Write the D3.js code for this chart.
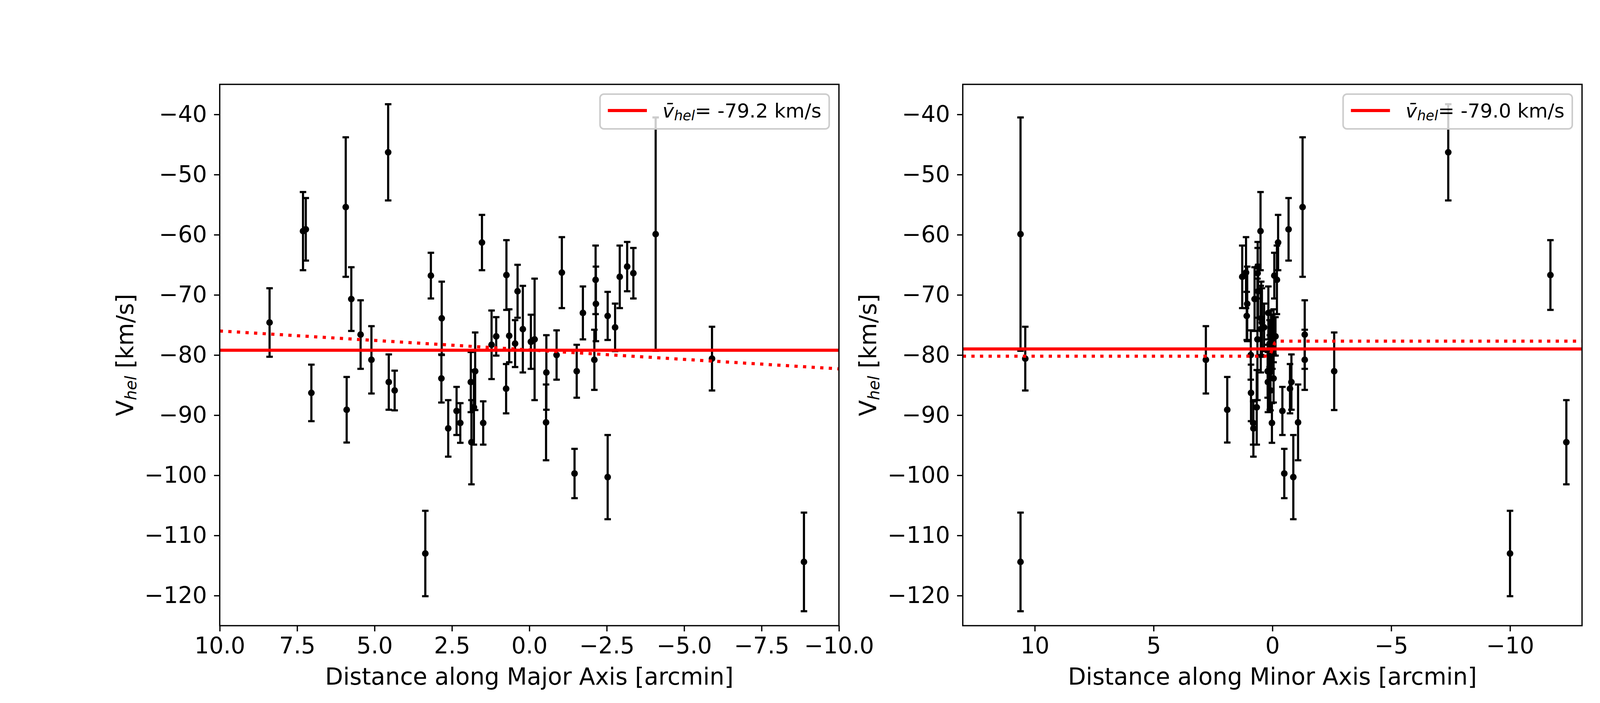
<!DOCTYPE html>
<html>
<head>
<meta charset="utf-8">
<script src="https://cdn.jsdelivr.net/npm/d3@7"></script>
<style>
  body { margin: 0; background: #fff; }
  text { font-family: "DejaVu Sans", sans-serif; fill: #000; }
</style>
</head>
<body>
<div id="chart"></div>
<script>
// velocities of the stars [km/s] and their errors
const velocity = [-74.6, -59.4, -59.1, -86.3, -55.4, -89.1, -70.7, -76.6, -80.8, -46.3,
  -84.5, -85.9, -113.0, -66.8, -73.9, -83.9, -92.2, -89.3, -91.3, -84.5,
  -82.7, -88.7, -94.5, -91.3, -61.3, -78.3, -76.9, -66.7, -85.6, -76.8,
  -78.1, -69.4, -75.7, -77.8, -77.4, -82.9, -91.2, -80.0, -66.3, -82.7,
  -99.7, -73.0, -80.8, -67.5, -71.5, -73.5, -100.3, -75.4, -67.0, -65.3,
  -66.4, -59.9, -80.6, -114.4];
const velErr = [5.7, 6.5, 5.2, 4.7, 11.6, 5.45, 5.3, 5.7, 5.6, 8.0,
  4.6, 3.3, 7.1, 3.8, 6.1, 4.0, 4.7, 4.0, 3.3, 5.0,
  6.45, 6.2, 7.0, 3.6, 4.6, 5.7, 3.2, 5.8, 4.1, 4.4,
  3.9, 4.4, 7.2, 4.5, 10.1, 6.2, 6.3, 4.1, 5.9, 4.4,
  4.1, 4.4, 5.0, 5.7, 6.2, 4.0, 7.0, 3.95, 5.2, 4.1,
  4.2, 19.4, 5.3, 8.2];
// distance along the axes [arcmin]
const majorDist = [8.39, 7.31, 7.22, 7.04, 5.93, 5.90, 5.75, 5.45, 5.10, 4.56,
  4.54, 4.35, 3.36, 3.18, 2.83, 2.84, 2.62, 2.35, 2.23, 1.89,
  1.75, 1.79, 1.87, 1.49, 1.53, 1.22, 1.07, 0.74, 0.75, 0.65,
  0.46, 0.38, 0.21, -0.05, -0.17, -0.55, -0.54, -0.88, -1.05, -1.53,
  -1.46, -1.73, -2.10, -2.14, -2.15, -2.53, -2.53, -2.77, -2.92, -3.16,
  -3.36, -4.08, -5.90, -8.87];
const minorDist = [0.44, 0.50, -0.68, 0.90, -1.27, 1.90, 0.75, -1.36, 2.8, -7.4,
  -0.80, 0.08, -10.0, -0.08, 0.47, -0.05, 0.80, -0.42, 0.02, 0.19,
  -2.60, 0.66, -12.37, 0.81, -0.24, 0.06, -0.13, -11.7, -0.74, -0.05,
  0.12, 0.60, 0.49, 0.0, 0.63, 0.11, -1.08, 0.91, 1.11, 0.20,
  -0.50, 0.17, -1.36, -0.19, 1.06, 1.08, -0.88, 0.35, 1.27, 0.62,
  0.62, 10.6, 10.4, 10.6];

// mean velocity and the fitted gradients
const meanMajor = -79.2, meanMinor = -79.0;
const majorFitX = [10, -10], majorFitY = [-76.0, -82.3];
const minorFitX = [13.03, 0.3, 0.1, 0, -0.1, -0.3, -13.03];
const minorFitY = [-80.2, -80.2, -80.0, -79.0, -78.0, -77.7, -77.7];

// ticks
const yTicks = [-40, -50, -60, -70, -80, -90, -100, -110, -120];
const majorTicks = [10, 7.5, 5, 2.5, 0, -2.5, -5, -7.5, -10];
const minorTicks = [10, 5, 0, -5, -10];

const W = 4500, H = 1800;
const fs = 58.3, legFs = 50;
const axTop = 216, axBottom = 1602;

const svg = d3.select("#chart").append("svg")
  .attr("width", W).attr("height", H)
  .attr("viewBox", `0 0 ${W} ${H}`);

const y = d3.scaleLinear().domain([-125, -35]).range([axBottom, axTop]);

function panel(id, x0, x1, xDomain, xTicks, tickFmt, dist, mean, fitX, fitY, xlab) {
  const x = d3.scaleLinear().domain(xDomain).range([x0, x1]);
  const g = svg.append("g");

  g.append("clipPath").attr("id", "clip" + id)
    .append("rect").attr("x", x0).attr("y", axTop).attr("width", x1 - x0).attr("height", axBottom - axTop);
  const plot = g.append("g").attr("clip-path", `url(#clip${id})`);

  const pts = velocity.map((v, i) => ({ x: dist[i], v: v, e: velErr[i] }));

  // error bars
  plot.selectAll(".bar").data(pts).join("line")
    .attr("x1", d => x(d.x)).attr("x2", d => x(d.x))
    .attr("y1", d => y(d.v - d.e)).attr("y2", d => y(d.v + d.e))
    .attr("stroke", "#000").attr("stroke-width", 5.5);
  pts.forEach(d => {
    [d.v - d.e, d.v + d.e].forEach(c => {
      plot.append("line")
        .attr("x1", x(d.x) - 8.3).attr("x2", x(d.x) + 8.3)
        .attr("y1", y(c)).attr("y2", y(c))
        .attr("stroke", "#000").attr("stroke-width", 5.5);
    });
  });
  plot.selectAll(".pt").data(pts).join("circle")
    .attr("cx", d => x(d.x)).attr("cy", d => y(d.v))
    .attr("r", 8.5).attr("fill", "#000");

  // mean line and fit
  plot.append("line")
    .attr("x1", x0).attr("x2", x1).attr("y1", y(mean)).attr("y2", y(mean))
    .attr("stroke", "#ff0000").attr("stroke-width", 8);
  const fit = d3.line().x(d => x(d[0])).y(d => y(d[1]));
  plot.append("path")
    .attr("d", fit(fitX.map((v, i) => [v, fitY[i]])))
    .attr("fill", "none").attr("stroke", "#ff0000").attr("stroke-width", 8)
    .attr("stroke-dasharray", "8.3 13.7");

  // axes
  g.append("g").attr("transform", `translate(0,${axBottom})`)
    .call(d3.axisBottom(x).tickValues(xTicks).tickFormat(tickFmt).tickSize(14.6).tickPadding(14.6))
    .call(a => a.select(".domain").remove())
    .call(a => a.selectAll("line").attr("stroke-width", 3.3))
    .call(a => a.selectAll("text").attr("font-size", fs).attr("font-family", "DejaVu Sans"));
  g.append("g").attr("transform", `translate(${x0},0)`)
    .call(d3.axisLeft(y).tickValues(yTicks).tickFormat(d3.format("d")).tickSize(14.6).tickPadding(18))
    .call(a => a.select(".domain").remove())
    .call(a => a.selectAll("line").attr("stroke-width", 3.3))
    .call(a => a.selectAll("text").attr("font-size", fs).attr("font-family", "DejaVu Sans"));

  g.append("rect").attr("x", x0).attr("y", axTop).attr("width", x1 - x0).attr("height", axBottom - axTop)
    .attr("fill", "none").attr("stroke", "#000").attr("stroke-width", 3.3);

  // labels
  g.append("text").attr("x", (x0 + x1) / 2).attr("y", 1753)
    .attr("text-anchor", "middle").attr("font-size", fs + 1.5).text(xlab);
  const yl = g.append("text")
    .attr("transform", `translate(${x0 - 222},${(axTop + axBottom) / 2}) rotate(-90)`)
    .attr("text-anchor", "middle").attr("font-size", fs + 1.5);
  yl.append("tspan").text("V");
  yl.append("tspan").attr("font-style", "italic").attr("font-size", fs * 0.7).attr("dy", 8).text("hel");
  yl.append("tspan").attr("dy", -8).text(" [km/s]");

  // legend
  const lg = g.append("g");
  const txt = lg.append("text").attr("font-size", legFs).attr("x", 0).attr("y", 0);
  txt.append("tspan").attr("font-style", "italic").text("v\u0304");
  txt.append("tspan").attr("font-style", "italic").attr("font-size", legFs * 0.7).attr("dy", 7).text("hel");
  txt.append("tspan").attr("dy", -7).text("= " + mean.toFixed(1) + " km/s");
  const tw = txt.node().getBBox().width;
  const bw = 20 + 100 + 40 + tw + 20, bh = 89;
  const bx = x1 - 25 - bw, by = axTop + 25;
  lg.insert("rect", "text")
    .attr("x", bx).attr("y", by).attr("width", bw).attr("height", bh)
    .attr("rx", 10).attr("fill", "#fff").attr("fill-opacity", 0.8)
    .attr("stroke", "#cccccc").attr("stroke-width", 4);
  lg.insert("line", "text")
    .attr("x1", bx + 20).attr("x2", bx + 120).attr("y1", by + 42).attr("y2", by + 42)
    .attr("stroke", "#ff0000").attr("stroke-width", 8);
  txt.attr("x", bx + 160).attr("y", by + 60);
}

panel("a", 562.5, 2147.7, [10, -10], majorTicks, d3.format(".1f"), majorDist, meanMajor,
  majorFitX, majorFitY, "Distance along Major Axis [arcmin]");
panel("b", 2464.7, 4050, [13.03, -13.03], minorTicks, d3.format("d"), minorDist, meanMinor,
  minorFitX, minorFitY, "Distance along Minor Axis [arcmin]");
</script>
</body>
</html>
